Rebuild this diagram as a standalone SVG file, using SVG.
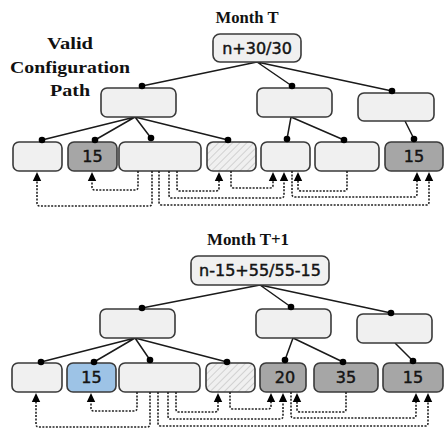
<svg xmlns="http://www.w3.org/2000/svg" xmlns:xlink="http://www.w3.org/1999/xlink" width="446" height="430" viewBox="0 0 446 430">
  <style>
    .node { fill: #f0f0f0; stroke: #3a3a3a; stroke-width: 1.6; }
    .dark { fill: #a6a6a6; }
    .blue { fill: #9dc3e6; }
    .hatch { fill: url(#hatch); }
    .edge { stroke: #1a1a1a; stroke-width: 1.5; fill: none; }
    .dot { fill: #000; }
    .link { stroke: #222; stroke-width: 1.6; fill: none; stroke-dasharray: 2 1.4; }
    .num { font-family: "DejaVu Sans", sans-serif; font-size: 16px; fill: #141414; stroke: #141414; stroke-width: 0.45; text-anchor: middle; }
    .title { font-family: "Liberation Serif", "Times New Roman", serif; font-weight: bold; fill: #111; text-anchor: middle; }
  </style>
  <defs>
    <pattern id="hatch" patternUnits="userSpaceOnUse" width="5" height="5" patternTransform="rotate(45)">
      <rect width="5" height="5" fill="#f0f0f0"/>
      <line x1="0" y1="0" x2="0" y2="5" stroke="#bdbdbd" stroke-width="1.2"/>
    </pattern>
    <!-- upward arrowhead, tip at origin -->
    <path id="ah" d="M0,0 L4.2,9 L-4.2,9 z" fill="#000"/>
  </defs>

  <!-- side label -->
  <g id="label-valid-path">
    <text class="title" x="70" y="49" font-size="17" textLength="46" lengthAdjust="spacingAndGlyphs">Valid</text>
    <text class="title" x="70" y="73" font-size="17" textLength="120" lengthAdjust="spacingAndGlyphs">Configuration</text>
    <text class="title" x="70" y="96" font-size="17" textLength="40" lengthAdjust="spacingAndGlyphs">Path</text>
  </g>

  <!-- ===== Month T ===== -->
  <g id="month-t">
    <text class="title" x="247" y="23" font-size="16" textLength="63" lengthAdjust="spacingAndGlyphs">Month T</text>

    <g id="t-edges">
      <path class="edge" d="M257,62 L142,86 M257,62 L292,86 M257,62 L392,91"/>
      <path class="edge" d="M135,117 L42,140 M135,117 L95,140 M135,117 L151,138 M135,117 L228,140"/>
      <path class="edge" d="M291,117 L287,139 M291,117 L344,140 M405,121 L414,139"/>
    </g>

    <g id="t-root"><rect class="node" x="213" y="34" width="88" height="28" rx="7"/><text class="num" x="257" y="54">n+30/30</text></g>
    <g id="t-mid-a"><rect class="node" x="101" y="88" width="75" height="29" rx="6"/></g>
    <g id="t-mid-b"><rect class="node" x="257" y="88" width="75" height="29" rx="6"/></g>
    <g id="t-mid-c"><rect class="node" x="358" y="93" width="76" height="28" rx="6"/></g>

    <g id="t-leaf-1"><rect class="node" x="13" y="142" width="49" height="29" rx="6"/></g>
    <g id="t-leaf-2"><rect class="node dark" x="68" y="142" width="49" height="29" rx="6"/><text class="num" x="92.5" y="162">15</text></g>
    <g id="t-leaf-3"><rect class="node" x="119" y="142" width="82" height="29" rx="6"/></g>
    <g id="t-leaf-4"><rect class="node hatch" x="207" y="142" width="49" height="29" rx="6"/></g>
    <g id="t-leaf-5"><rect class="node" x="261" y="142" width="49" height="29" rx="6"/></g>
    <g id="t-leaf-6"><rect class="node" x="315" y="142" width="64" height="29" rx="6"/></g>
    <g id="t-leaf-7"><rect class="node dark" x="385" y="142" width="58" height="29" rx="6"/><text class="num" x="414" y="162">15</text></g>

    <g id="t-dots" class="dot">
      <circle cx="142" cy="86" r="3.3"/><circle cx="292" cy="86" r="3.3"/><circle cx="392" cy="91" r="3.3"/>
      <circle cx="42" cy="140" r="3.3"/><circle cx="95" cy="140" r="3.3"/><circle cx="151" cy="138" r="3.3"/>
      <circle cx="228" cy="140" r="3.3"/><circle cx="287" cy="139" r="3.3"/><circle cx="344" cy="140" r="3.3"/>
      <circle cx="414" cy="139" r="3.3"/>
    </g>

    <g id="t-links">
      <path class="link" d="M152,171 V203 Q152,206 149,206 H40 Q37,206 37,203 V180"/>
      <path class="link" d="M138,171 V187 Q138,190 135,190 H95 Q92,190 92,187 V180"/>
      <path class="link" d="M177,171 V188 Q177,191 180,191 H216 Q219,191 219,188 V180"/>
      <path class="link" d="M231,171 V185 Q231,188 234,188 H270 Q273,188 273,185 V180"/>
      <path class="link" d="M169,171 V195 Q169,198 172,198 H281 Q284,198 284,195 V180"/>
      <path class="link" d="M159,171 V202 Q159,205 162,205 H426 Q429,205 429,202 V180"/>
      <path class="link" d="M347,171 V188 Q347,191 344,191 H301 Q298,191 298,188 V180"/>
      <path class="link" d="M292,171 V194 Q292,197 295,197 H414 Q417,197 417,194 V180"/>
      <use xlink:href="#ah" href="#ah" x="37" y="172"/>
      <use xlink:href="#ah" href="#ah" x="92" y="172"/>
      <use xlink:href="#ah" href="#ah" x="219" y="172"/>
      <use xlink:href="#ah" href="#ah" x="273" y="172"/>
      <use xlink:href="#ah" href="#ah" x="284" y="172"/>
      <use xlink:href="#ah" href="#ah" x="298" y="172"/>
      <use xlink:href="#ah" href="#ah" x="417" y="172"/>
      <use xlink:href="#ah" href="#ah" x="429" y="172"/>
    </g>
  </g>

  <!-- ===== Month T+1 ===== -->
  <g id="month-t1">
    <text class="title" x="248" y="245" font-size="16" textLength="82" lengthAdjust="spacingAndGlyphs">Month T+1</text>

    <g id="t1-edges">
      <path class="edge" d="M260,285 L142,308 M260,285 L291,307 M260,285 L391,313"/>
      <path class="edge" d="M135,338 L41,362 M135,338 L94,362 M135,338 L150,360 M135,338 L227,362"/>
      <path class="edge" d="M293,338 L285,360 M293,338 L343,362 M395,343 L413,361"/>
    </g>

    <g id="t1-root"><rect class="node" x="191" y="256" width="138" height="29" rx="7"/><text class="num" x="260" y="276">n-15+55/55-15</text></g>
    <g id="t1-mid-a"><rect class="node" x="100" y="309" width="75" height="29" rx="6"/></g>
    <g id="t1-mid-b"><rect class="node" x="256" y="309" width="75" height="29" rx="6"/></g>
    <g id="t1-mid-c"><rect class="node" x="357" y="314" width="75" height="29" rx="6"/></g>

    <g id="t1-leaf-1"><rect class="node" x="12" y="363" width="50" height="29" rx="6"/></g>
    <g id="t1-leaf-2"><rect class="node blue" x="67" y="363" width="49" height="29" rx="6"/><text class="num" x="91.5" y="383">15</text></g>
    <g id="t1-leaf-3"><rect class="node" x="119" y="363" width="81" height="29" rx="6"/></g>
    <g id="t1-leaf-4"><rect class="node hatch" x="206" y="363" width="49" height="29" rx="6"/></g>
    <g id="t1-leaf-5"><rect class="node dark" x="260" y="363" width="46" height="29" rx="6"/><text class="num" x="285" y="383">20</text></g>
    <g id="t1-leaf-6"><rect class="node dark" x="314" y="363" width="64" height="29" rx="6"/><text class="num" x="346" y="383">35</text></g>
    <g id="t1-leaf-7"><rect class="node dark" x="383" y="363" width="60" height="29" rx="6"/><text class="num" x="413" y="383">15</text></g>

    <g id="t1-dots" class="dot">
      <circle cx="142" cy="308" r="3.3"/><circle cx="291" cy="307" r="3.3"/><circle cx="391" cy="313" r="3.3"/>
      <circle cx="41" cy="362" r="3.3"/><circle cx="94" cy="362" r="3.3"/><circle cx="150" cy="360" r="3.3"/>
      <circle cx="227" cy="362" r="3.3"/><circle cx="285" cy="360" r="3.3"/><circle cx="343" cy="362" r="3.3"/>
      <circle cx="413" cy="361" r="3.3"/>
    </g>

    <g id="t1-links">
      <path class="link" d="M150,392 V424 Q150,427 147,427 H39 Q36,427 36,424 V401"/>
      <path class="link" d="M137,392 V408 Q137,411 134,411 H94 Q91,411 91,408 V401"/>
      <path class="link" d="M176,392 V409 Q176,412 179,412 H215 Q218,412 218,409 V401"/>
      <path class="link" d="M230,392 V406 Q230,409 233,409 H268 Q271,409 271,406 V401"/>
      <path class="link" d="M168,392 V416 Q168,419 171,419 H280 Q283,419 283,416 V401"/>
      <path class="link" d="M158,392 V423 Q158,426 161,426 H425 Q428,426 428,423 V401"/>
      <path class="link" d="M346,392 V409 Q346,412 343,412 H300 Q297,412 297,409 V401"/>
      <path class="link" d="M291,392 V415 Q291,418 294,418 H413 Q416,418 416,415 V401"/>
      <use xlink:href="#ah" href="#ah" x="36" y="393"/>
      <use xlink:href="#ah" href="#ah" x="91" y="393"/>
      <use xlink:href="#ah" href="#ah" x="218" y="393"/>
      <use xlink:href="#ah" href="#ah" x="271" y="393"/>
      <use xlink:href="#ah" href="#ah" x="283" y="393"/>
      <use xlink:href="#ah" href="#ah" x="297" y="393"/>
      <use xlink:href="#ah" href="#ah" x="416" y="393"/>
      <use xlink:href="#ah" href="#ah" x="428" y="393"/>
    </g>
  </g>
</svg>
